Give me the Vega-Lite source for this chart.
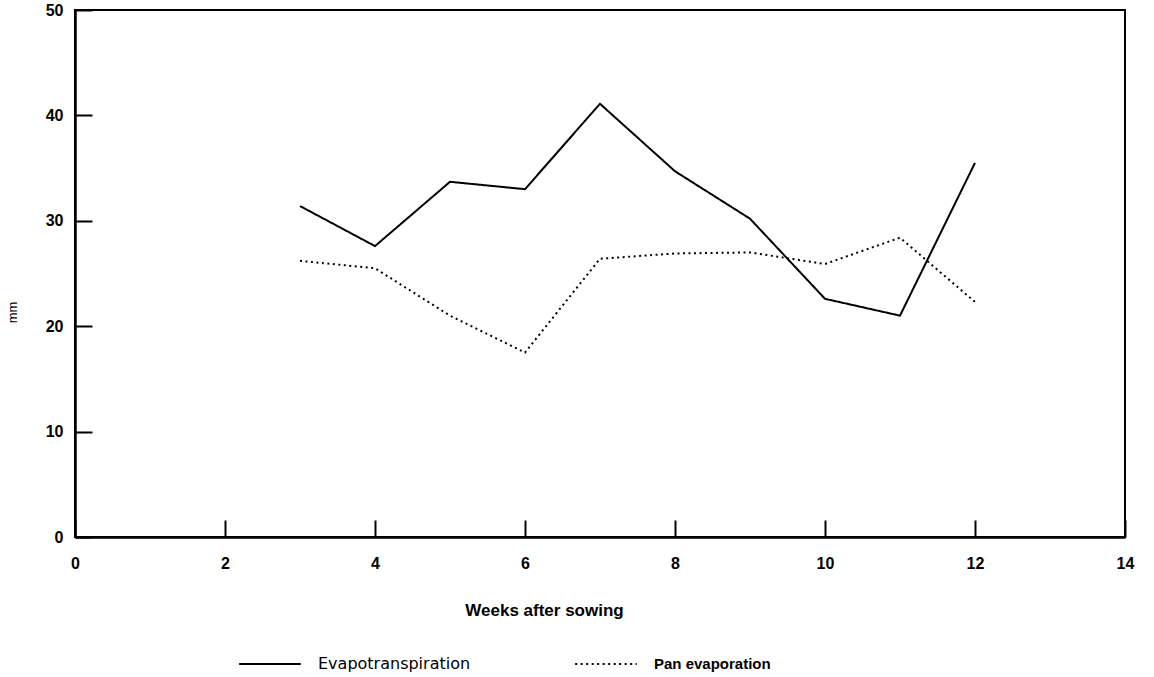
{
  "$schema": "https://vega.github.io/schema/vega-lite/v6.json",
  "autosize": "none",
  "width": 1050,
  "height": 527,
  "padding": {"left": 75, "top": 10, "right": 29, "bottom": 140},
  "background": "white",
  "config": {
    "font": "Liberation Sans",
    "view": {"stroke": "black", "strokeWidth": 2},
    "axis": {
      "grid": false,
      "domainColor": "black",
      "domainWidth": 2.5,
      "tickColor": "black",
      "tickWidth": 2,
      "tickSize": -17,
      "labelFont": "Liberation Sans",
      "labelFontWeight": "bold",
      "labelFontSize": 16,
      "labelColor": "black",
      "labelFlush": false,
      "titleColor": "black"
    }
  },
  "data": {
    "values": [
      {"week": 3, "mm": 31.4, "series": "Evapotranspiration"},
      {"week": 4, "mm": 27.6, "series": "Evapotranspiration"},
      {"week": 5, "mm": 33.7, "series": "Evapotranspiration"},
      {"week": 6, "mm": 33.0, "series": "Evapotranspiration"},
      {"week": 7, "mm": 41.1, "series": "Evapotranspiration"},
      {"week": 8, "mm": 34.7, "series": "Evapotranspiration"},
      {"week": 9, "mm": 30.2, "series": "Evapotranspiration"},
      {"week": 10, "mm": 22.6, "series": "Evapotranspiration"},
      {"week": 11, "mm": 21.0, "series": "Evapotranspiration"},
      {"week": 12, "mm": 35.5, "series": "Evapotranspiration"},
      {"week": 3, "mm": 26.2, "series": "Pan evaporation"},
      {"week": 4, "mm": 25.5, "series": "Pan evaporation"},
      {"week": 5, "mm": 21.0, "series": "Pan evaporation"},
      {"week": 6, "mm": 17.5, "series": "Pan evaporation"},
      {"week": 7, "mm": 26.4, "series": "Pan evaporation"},
      {"week": 8, "mm": 26.9, "series": "Pan evaporation"},
      {"week": 9, "mm": 27.0, "series": "Pan evaporation"},
      {"week": 10, "mm": 25.9, "series": "Pan evaporation"},
      {"week": 11, "mm": 28.4, "series": "Pan evaporation"},
      {"week": 12, "mm": 22.3, "series": "Pan evaporation"}
    ]
  },
  "mark": {"type": "line", "color": "black", "strokeWidth": 2, "strokeCap": "butt"},
  "encoding": {
    "x": {
      "field": "week",
      "type": "quantitative",
      "scale": {"domain": [0, 14], "nice": false, "zero": false},
      "axis": {
        "values": [0, 2, 4, 6, 8, 10, 12, 14],
        "labelPadding": 35,
        "title": "Weeks after sowing",
        "titleFontSize": 17,
        "titleFontWeight": "bold",
        "titleX": 469,
        "titleY": 73,
        "titleBaseline": "middle",
        "titleAlign": "center"
      }
    },
    "y": {
      "field": "mm",
      "type": "quantitative",
      "scale": {"domain": [0, 50], "nice": false},
      "axis": {
        "values": [0, 10, 20, 30, 40, 50],
        "labelPadding": 29,
        "title": "mm",
        "titleFontSize": 13,
        "titleFontWeight": "normal",
        "titleX": -63,
        "titleY": 302,
        "titleAngle": -90,
        "titleAlign": "center",
        "titleBaseline": "middle"
      }
    },
    "strokeDash": {
      "field": "series",
      "type": "nominal",
      "scale": {
        "domain": ["Evapotranspiration", "Pan evaporation"],
        "range": [[1, 0], [2, 3.5]]
      },
      "legend": {
        "title": null,
        "orient": "none",
        "direction": "horizontal",
        "legendX": 163,
        "legendY": 622,
        "columns": 2,
        "columnPadding": 100,
        "symbolType": "stroke",
        "symbolSize": 3800,
        "symbolStrokeWidth": 2,
        "symbolStrokeColor": "black",
        "labelOffset": 16,
        "labelFontSize": 16,
        "labelLimit": 400,
        "labelColor": "black",
        "labelFont": "Liberation Sans",
        "encode": {
          "labels": {
            "update": {
              "font": {"signal": "datum.label === 'Pan evaporation' ? 'Liberation Sans' : 'DejaVu Sans'"},
              "fontSize": {"signal": "datum.label === 'Pan evaporation' ? 15 : 16"},
              "fontWeight": {"signal": "datum.label === 'Pan evaporation' ? 'bold' : 'normal'"}
            }
          }
        }
      }
    }
  }
}
